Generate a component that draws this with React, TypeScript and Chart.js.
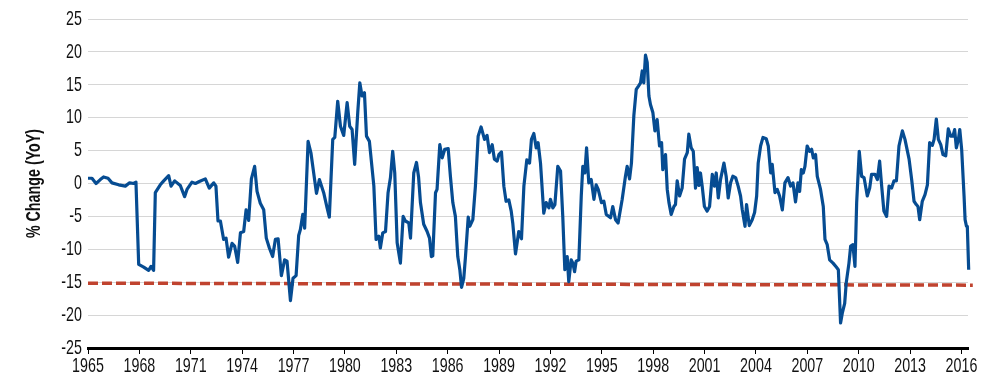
import React, { useEffect, useRef } from 'react';
import { Chart, registerables } from 'chart.js';

Chart.register(...registerables);

const years = [
  1965.0, 1965.23, 1965.47, 1965.72, 1965.91, 1966.17, 1966.4, 1966.79, 1967.18, 1967.43, 1967.67, 1967.8,
  1967.96, 1968.25, 1968.54, 1968.68, 1968.83, 1968.93, 1969.22, 1969.42, 1969.71, 1969.85, 1970.06, 1970.39,
  1970.64, 1970.78, 1971.07, 1971.27, 1971.5, 1971.85, 1972.08, 1972.34, 1972.47, 1972.59, 1972.73, 1972.92,
  1973.06, 1973.21, 1973.41, 1973.56, 1973.74, 1973.9, 1974.09, 1974.23, 1974.38, 1974.54, 1974.73, 1974.87,
  1975.06, 1975.26, 1975.41, 1975.59, 1975.78, 1975.94, 1976.1, 1976.29, 1976.48, 1976.62, 1976.82, 1976.97,
  1977.15, 1977.3, 1977.4, 1977.54, 1977.65, 1977.85, 1978.02, 1978.34, 1978.51, 1978.76, 1978.96, 1979.09,
  1979.29, 1979.41, 1979.58, 1979.74, 1979.93, 1980.13, 1980.28, 1980.42, 1980.57, 1980.75, 1980.87, 1981.0,
  1981.14, 1981.26, 1981.43, 1981.69, 1981.82, 1981.98, 1982.07, 1982.21, 1982.37, 1982.52, 1982.66, 1982.79,
  1982.91, 1983.05, 1983.24, 1983.4, 1983.53, 1983.73, 1983.83, 1984.02, 1984.18, 1984.3, 1984.41, 1984.6,
  1984.8, 1984.94, 1985.05, 1985.13, 1985.29, 1985.38, 1985.54, 1985.68, 1985.83, 1986.03, 1986.16, 1986.3,
  1986.45, 1986.59, 1986.71, 1986.81, 1986.94, 1987.04, 1987.2, 1987.29, 1987.47, 1987.62, 1987.78, 1987.95,
  1988.15, 1988.3, 1988.44, 1988.6, 1988.73, 1988.89, 1988.99, 1989.14, 1989.28, 1989.41, 1989.57, 1989.71,
  1989.8, 1989.96, 1990.15, 1990.31, 1990.45, 1990.62, 1990.78, 1990.89, 1991.03, 1991.17, 1991.28, 1991.42,
  1991.61, 1991.75, 1991.91, 1992.0, 1992.14, 1992.26, 1992.43, 1992.59, 1992.72, 1992.84, 1992.98, 1993.07,
  1993.21, 1993.31, 1993.41, 1993.5, 1993.66, 1993.8, 1993.89, 1994.01, 1994.11, 1994.24, 1994.38, 1994.54,
  1994.67, 1994.79, 1994.98, 1995.12, 1995.26, 1995.51, 1995.64, 1995.8, 1995.95, 1996.19, 1996.38, 1996.48,
  1996.62, 1996.73, 1996.87, 1997.01, 1997.14, 1997.26, 1997.36, 1997.45, 1997.55, 1997.65, 1997.75, 1997.84,
  1997.98, 1998.1, 1998.23, 1998.37, 1998.49, 1998.56, 1998.72, 1998.82, 1998.92, 1999.05, 1999.21, 1999.3,
  1999.4, 1999.54, 1999.69, 1999.83, 1999.99, 2000.08, 2000.22, 2000.34, 2000.47, 2000.57, 2000.67, 2000.76,
  2000.86, 2000.99, 2001.15, 2001.29, 2001.45, 2001.58, 2001.68, 2001.8, 2001.93, 2002.13, 2002.26, 2002.38,
  2002.52, 2002.65, 2002.81, 2002.96, 2003.1, 2003.2, 2003.36, 2003.45, 2003.61, 2003.78, 2003.92, 2004.04,
  2004.13, 2004.27, 2004.41, 2004.6, 2004.72, 2004.86, 2004.95, 2005.11, 2005.24, 2005.38, 2005.54, 2005.69,
  2005.87, 2006.02, 2006.16, 2006.31, 2006.45, 2006.55, 2006.65, 2006.76, 2006.86, 2006.99, 2007.13, 2007.25,
  2007.35, 2007.48, 2007.58, 2007.77, 2007.93, 2008.03, 2008.16, 2008.3, 2008.5, 2008.69, 2008.81, 2008.94,
  2009.04, 2009.18, 2009.27, 2009.43, 2009.53, 2009.66, 2009.78, 2009.88, 2010.03, 2010.17, 2010.31, 2010.5,
  2010.64, 2010.75, 2010.95, 2011.09, 2011.22, 2011.34, 2011.47, 2011.63, 2011.77, 2011.92, 2012.06, 2012.2,
  2012.35, 2012.55, 2012.7, 2012.94, 2013.09, 2013.23, 2013.36, 2013.46, 2013.56, 2013.71, 2013.87, 2014.01,
  2014.14, 2014.3, 2014.4, 2014.53, 2014.65, 2014.79, 2014.92, 2015.08, 2015.23, 2015.37, 2015.5, 2015.6,
  2015.7, 2015.82, 2015.9, 2016.01, 2016.15, 2016.21, 2016.29, 2016.34, 2016.42,
];

const yoyChange = [
  0.8, 0.8, 0.0, 0.6, 1.0, 0.8, 0.1, -0.2, -0.4, 0.1, 0.0, 0.2,
  -12.3, -12.7, -13.2, -12.6, -13.2, -1.4, -0.2, 0.4, 1.2, -0.4, 0.4, -0.3,
  -2.0, -0.9, 0.2, 0.0, 0.3, 0.7, -0.7, 0.1, -0.4, -5.7, -5.7, -8.5,
  -8.3, -11.2, -9.1, -9.5, -12.0, -7.5, -7.3, -4.0, -5.6, 0.7, 2.6, -1.2,
  -3.0, -4.0, -8.3, -9.8, -11.1, -8.5, -8.4, -14.0, -11.6, -11.8, -17.8, -14.4,
  -14.0, -7.9, -7.0, -4.7, -6.8, 6.4, 4.6, -1.5, 0.6, -1.4, -3.7, -5.1,
  6.7, 7.0, 12.5, 8.7, 7.3, 12.3, 8.7, 8.2, 2.9, 10.8, 15.3, 13.3,
  13.8, 7.2, 6.4, -0.4, -8.5, -8.0, -9.8, -7.5, -7.3, -1.4, 0.9, 4.9,
  1.6, -9.0, -12.1, -5.0, -5.7, -6.0, -8.3, 1.6, 3.2, 1.0, -2.9, -6.2,
  -7.3, -8.3, -11.1, -11.0, -1.4, -0.9, 5.9, 3.9, 5.2, 5.3, 1.1, -2.9,
  -5.0, -11.1, -13.1, -15.8, -14.4, -11.1, -5.1, -6.5, -5.5, -0.4, 7.2, 8.6,
  6.7, 7.3, 4.7, 5.9, 3.7, 3.4, 4.4, 4.8, -0.4, -2.7, -2.5, -4.2,
  -6.0, -10.7, -7.3, -8.4, -0.4, 3.6, 3.1, 6.7, 7.6, 5.4, 6.2, 3.1,
  -4.5, -2.9, -3.7, -2.4, -3.7, -3.2, 2.6, 1.9, -5.0, -13.1, -11.1, -14.9,
  -11.6, -12.1, -13.4, -11.8, -11.6, -1.9, 2.6, 1.6, 5.4, 0.1, 0.6, -2.4,
  -0.2, -0.9, -2.9, -2.7, -4.7, -5.2, -3.5, -5.5, -6.0, -2.4, 1.1, 2.6,
  0.7, 3.1, 10.3, 14.3, 14.8, 15.3, 17.1, 15.3, 19.5, 18.4, 13.3, 12.0,
  10.8, 8.0, 9.7, 5.7, 6.2, 2.1, 4.4, -0.9, -2.9, -4.7, -3.5, -3.2,
  0.4, -1.9, -0.7, 3.7, 4.7, 7.5, 5.4, 4.9, -0.7, 2.4, -0.3, 1.6,
  -0.4, -3.5, -4.2, -3.5, 1.4, -0.4, 1.6, -2.2, 0.6, 3.1, 1.1, -2.2,
  0.1, 1.1, 0.9, -0.4, -1.9, -4.0, -6.5, -3.2, -6.4, -5.5, -4.4, -1.9,
  3.1, 5.7, 7.0, 6.8, 5.7, 1.6, 2.9, -1.4, -0.9, -1.9, -4.0, 0.1,
  0.9, -0.4, 0.1, -2.8, 0.1, -1.2, 2.1, 1.6, 2.6, 5.7, 4.9, 5.2,
  3.9, 4.4, 1.1, -0.9, -3.5, -8.5, -9.3, -11.6, -12.1, -12.7, -13.1, -21.2,
  -19.7, -18.2, -15.1, -12.1, -9.5, -9.3, -12.6, -2.9, 4.9, 1.1, 0.9, -1.9,
  -0.7, 1.4, 1.4, 0.6, 3.4, -0.4, -4.2, -5.0, -0.4, -0.7, 0.4, 0.4,
  5.7, 8.0, 6.7, 3.7, 0.6, -2.7, -3.2, -3.5, -5.5, -2.7, -1.7, -0.2,
  6.2, 5.8, 6.7, 9.8, 6.7, 5.9, 4.4, 4.2, 8.3, 7.2, 7.2, 8.2,
  5.4, 6.7, 8.2, 5.2, -1.9, -5.5, -6.5, -6.5, -13.1,
];

const thresholdYears = [1965, 2016.66];
const thresholdValues = [-15.15, -15.45];

const xTickYears = [1965, 1968, 1971, 1974, 1977, 1980, 1983, 1986, 1989, 1992, 1995, 1998, 2001, 2004, 2007, 2010, 2013, 2016];
const yTickValues = [-25, -20, -15, -10, -5, 0, 5, 10, 15, 20, 25];

const FONT = '"Liberation Sans", Arial, sans-serif';
const TEXT_SCALE_X = 0.68;

// Draws every Chart.js text horizontally condensed (the reference uses a condensed face).
const condensePlugin = {
  id: 'condenseText',
  beforeInit(chart: any) {
    const ctx = chart.ctx as CanvasRenderingContext2D;
    const orig = ctx.fillText.bind(ctx);
    (ctx as any).fillText = (text: string, x: number, y: number, maxWidth?: number) => {
      ctx.save();
      ctx.translate(x, y);
      ctx.scale(TEXT_SCALE_X, 1);
      if (maxWidth !== undefined) orig(text, 0, 0, maxWidth / TEXT_SCALE_X);
      else orig(text, 0, 0);
      ctx.restore();
    };
  },
};

export default function App() {
  const ref = useRef<HTMLCanvasElement>(null);

  useEffect(() => {
    document.body.style.margin = '0';
    const canvas = ref.current;
    if (!canvas) return;
    const chart = new Chart(canvas, {
      type: 'line',
      plugins: [condensePlugin],
      data: {
        datasets: [
          {
            label: 'YoY',
            data: years.map((x, i) => ({ x, y: yoyChange[i] })),
            borderColor: '#064c92',
            borderWidth: 3.2,
            pointRadius: 0,
            tension: 0,
            borderJoinStyle: 'round',
            clip: 6,
            order: 1,
          },
          {
            label: 'Threshold',
            data: thresholdYears.map((x, i) => ({ x, y: thresholdValues[i] })),
            borderColor: '#c0432f',
            borderWidth: 3.5,
            borderDash: [10, 4],
            pointRadius: 0,
            tension: 0,
            clip: 8,
            order: 2,
          },
        ],
      },
      options: {
        responsive: false,
        animation: false,
        layout: { padding: { top: 19, right: 32, bottom: 0, left: 0 } },
        plugins: { legend: { display: false }, tooltip: { enabled: false } },
        scales: {
          x: {
            type: 'linear',
            min: 1965,
            max: 2016.38,
            afterBuildTicks: (s: any) => {
              s.ticks = xTickYears.map((v) => ({ value: v }));
            },
            afterFit: (s: any) => {
              s.height = 36;
            },
            grid: { drawOnChartArea: false, drawTicks: true, tickLength: 6, color: '#000', lineWidth: 1 },
            border: { display: true, color: '#000', width: 3 },
            ticks: {
              autoSkip: false,
              maxRotation: 0,
              padding: 0,
              color: '#111',
              font: { family: FONT, size: 21 },
              callback: (v: any) => String(v),
            },
          },
          y: {
            min: -25,
            max: 25,
            afterBuildTicks: (s: any) => {
              s.ticks = yTickValues.map((v) => ({ value: v }));
            },
            afterFit: (s: any) => {
              s.width = 88;
            },
            grid: { color: '#d6d6d6', lineWidth: 1, drawTicks: false },
            border: { display: false },
            ticks: {
              padding: 6,
              color: '#111',
              font: { family: FONT, size: 21 },
              callback: (v: any) => String(v),
            },
            title: {
              display: true,
              text: '% Change (YoY)',
              color: '#111',
              font: { family: FONT, size: 21, weight: 'bold' },
              padding: { top: 22, bottom: 0 },
            },
          },
        },
      },
    } as any);
    return () => chart.destroy();
  }, []);

  return <canvas ref={ref} width={1000} height={384} style={{ display: 'block' }} />;
}
